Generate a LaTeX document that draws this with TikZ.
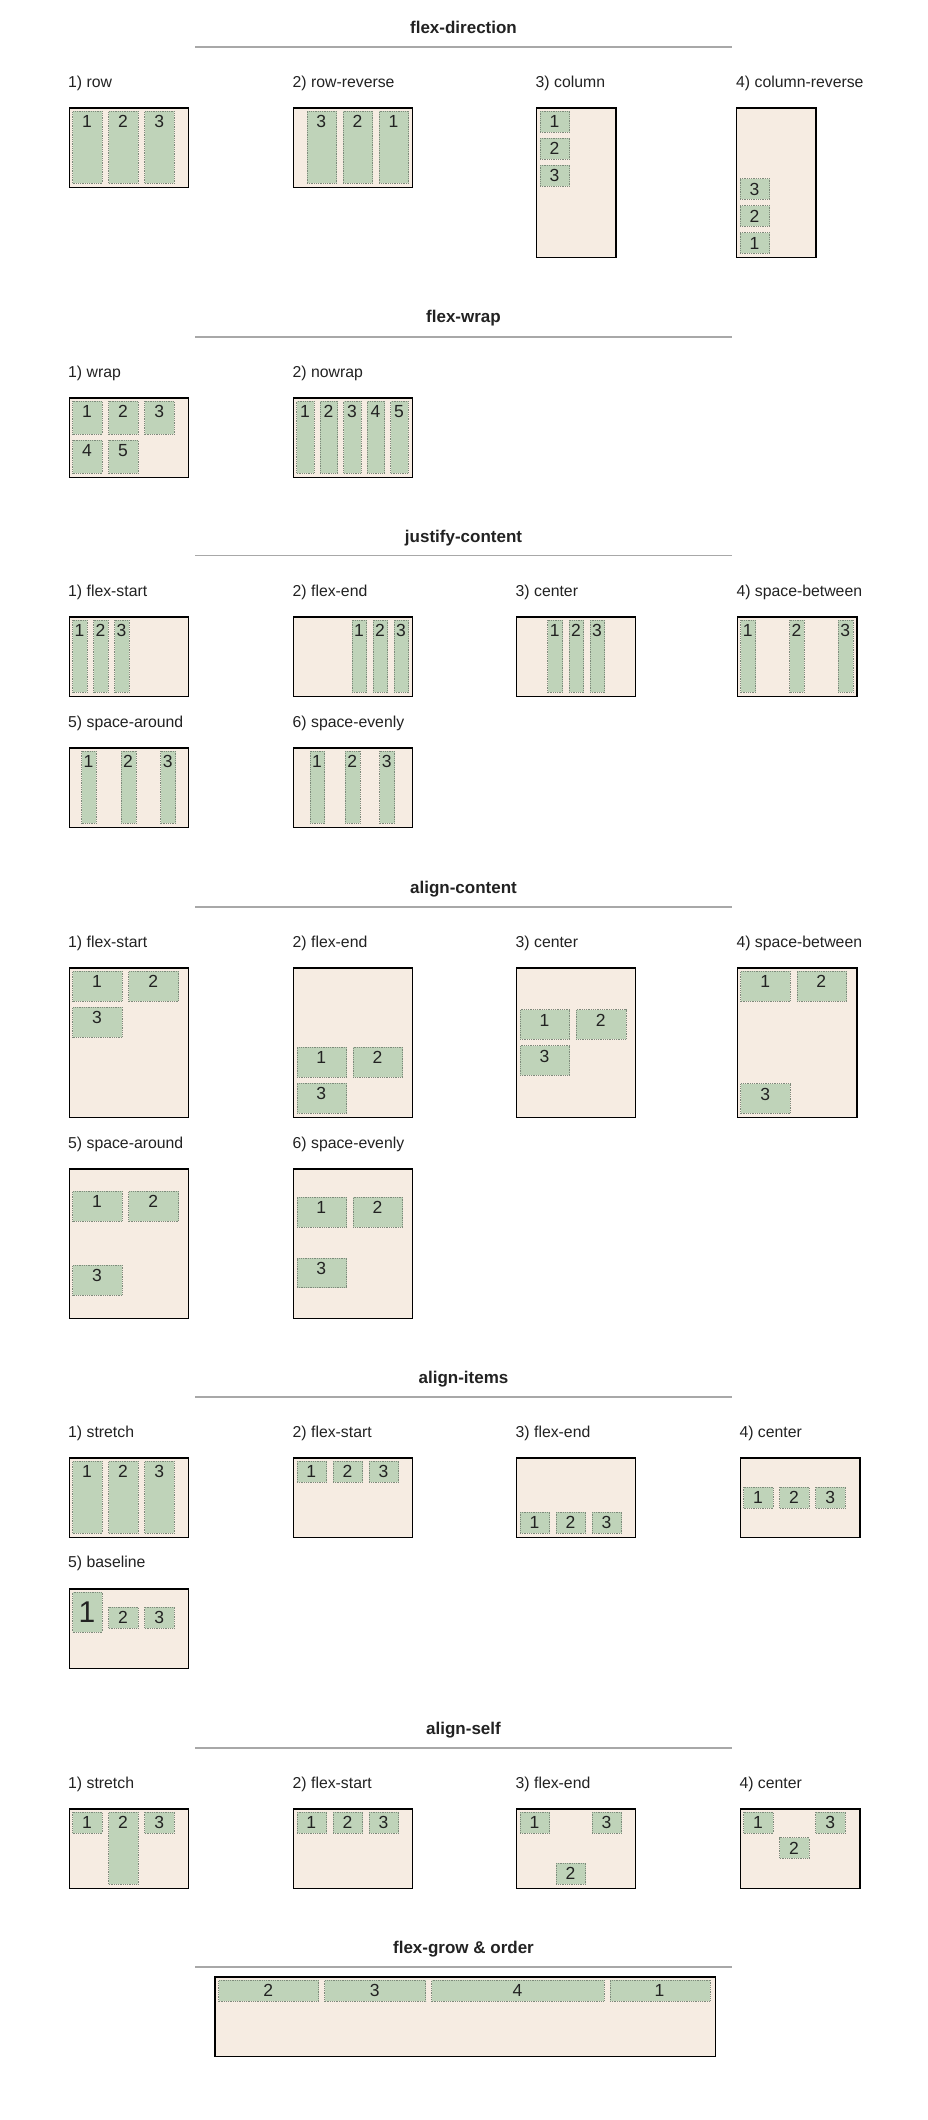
\documentclass[tikz,border=0pt]{standalone}
\usepackage{fontspec}
\setmainfont{Liberation Sans}
\definecolor{cream}{HTML}{F6ECE2}
\definecolor{sage}{HTML}{BFD3B9}
\definecolor{itemline}{HTML}{7E8A7B}
\definecolor{rulegray}{HTML}{A8A8A8}
\definecolor{ink}{HTML}{222222}
\tikzset{
  container/.style={draw=black, line width=1.4pt, fill=cream, inner sep=0pt, anchor=north west},
  flexitem/.style={draw=itemline, densely dotted, line width=0.8pt, fill=sage, inner sep=0pt, anchor=north west},
  num/.style={font=\fontsize{17.5}{20}\selectfont, text=ink, inner sep=0pt, anchor=base},
  bignum/.style={font=\fontsize{30}{34}\selectfont, text=ink, inner sep=0pt, anchor=base},
  lbl/.style={font=\fontsize{15.8}{18}\selectfont, text=ink, inner sep=0pt, anchor=base west},
  ttl/.style={font=\bfseries\fontsize{17}{20}\selectfont, text=ink, inner sep=0pt, anchor=base},
  rulestyle/.style={draw=rulegray, line width=1.6pt}
}
% container box: name, x, y, width, height
\newcommand\cbx[5]{\node[container, minimum width=#4pt, minimum height=#5pt] (#1) at (#2,#3) {};}
% flex item: name, x, y, width, height, number
\newcommand\itm[6]{%
  \node[flexitem, minimum width=#4pt, minimum height=#5pt] (#1) at (#2,#3) {};
  \node[num] (#1n) at ({#2+#4/2},{#3+16.8}) {#6};}
% section heading with rule: name, baseline y, rule y, text
\newcommand\sect[4]{%
  \node[ttl] (#1) at (463.5,#2) {#4};
  \draw[rulestyle] (195,#3) -- (732,#3);}
\begin{document}
\begin{tikzpicture}[x=1pt,y=-1pt]
\useasboundingbox (0,0) rectangle (927,2120);
\fill[white] (0,0) rectangle (927,2120);

% ---------------- flex-direction ----------------
\sect{tDir}{33.3}{46.7}{flex-direction}
\node[lbl] (lDir1) at (68,87.3) {1) row};
\node[lbl] (lDir2) at (292.5,87.3) {2) row-reverse};
\node[lbl] (lDir3) at (535.5,87.3) {3) column};
\node[lbl] (lDir4) at (736,87.3) {4) column-reverse};
\cbx{dRow}{68.6}{107.3}{119}{79.4}
\itm{dRowA}{72.2}{111}{29.6}{71.7}{1}
\itm{dRowB}{108.3}{111}{29.6}{71.7}{2}
\itm{dRowC}{144.4}{111}{29.6}{71.7}{3}
\cbx{dRev}{292.9}{107.3}{119}{79.4}
\itm{dRevA}{306.5}{111}{29.6}{71.7}{3}
\itm{dRevB}{342.6}{111}{29.6}{71.7}{2}
\itm{dRevC}{378.7}{111}{29.6}{71.7}{1}
\cbx{dCol}{536}{107.3}{79.4}{149.4}
\itm{dColA}{539.6}{111}{29.6}{20.7}{1}
\itm{dColB}{539.6}{138}{29.6}{20.7}{2}
\itm{dColC}{539.6}{165}{29.6}{20.7}{3}
\cbx{dColR}{736}{107.3}{79.4}{149.4}
\itm{dColRA}{739.6}{178.3}{29.6}{20.7}{3}
\itm{dColRB}{739.6}{205.3}{29.6}{20.7}{2}
\itm{dColRC}{739.6}{232.3}{29.6}{20.7}{1}

% ---------------- flex-wrap ----------------
\sect{tWrap}{322.3}{336.7}{flex-wrap}
\node[lbl] (lWrap1) at (68,377.3) {1) wrap};
\node[lbl] (lWrap2) at (292.5,377.3) {2) nowrap};
\cbx{wWrap}{68.6}{397.3}{119}{79.4}
\itm{wWrapA}{72.2}{401}{29.6}{32.7}{1}
\itm{wWrapB}{108.3}{401}{29.6}{32.7}{2}
\itm{wWrapC}{144.4}{401}{29.6}{32.7}{3}
\itm{wWrapD}{72.2}{440}{29.6}{32.7}{4}
\itm{wWrapE}{108.3}{440}{29.6}{32.7}{5}
\cbx{wNo}{292.9}{397.3}{119}{79.4}
\itm{wNoA}{296.4}{401}{17.2}{71.7}{1}
\itm{wNoB}{319.9}{401}{17.2}{71.7}{2}
\itm{wNoC}{343.4}{401}{17.2}{71.7}{3}
\itm{wNoD}{366.9}{401}{17.2}{71.7}{4}
\itm{wNoE}{390.4}{401}{17.2}{71.7}{5}

% ---------------- justify-content ----------------
\sect{tJust}{542.3}{555.3}{justify-content}
\node[lbl] (lJust1) at (68,596.3) {1) flex-start};
\node[lbl] (lJust2) at (292.5,596.3) {2) flex-end};
\node[lbl] (lJust3) at (515.5,596.3) {3) center};
\node[lbl] (lJust4) at (736.3,596.3) {4) space-between};
\node[lbl] (lJust5) at (68,727.3) {5) space-around};
\node[lbl] (lJust6) at (292.5,727.3) {6) space-evenly};
\cbx{jStart}{68.6}{616.3}{119}{79.4}
\itm{jStartA}{72.2}{620}{14.8}{71.7}{1}
\itm{jStartB}{93.2}{620}{14.8}{71.7}{2}
\itm{jStartC}{114.2}{620}{14.8}{71.7}{3}
\cbx{jEnd}{292.9}{616.3}{119}{79.4}
\itm{jEndA}{351.5}{620}{14.8}{71.7}{1}
\itm{jEndB}{372.5}{620}{14.8}{71.7}{2}
\itm{jEndC}{393.5}{620}{14.8}{71.7}{3}
\cbx{jCen}{516}{616.3}{119}{79.4}
\itm{jCenA}{547.3}{620}{14.8}{71.7}{1}
\itm{jCenB}{568.5}{620}{14.8}{71.7}{2}
\itm{jCenC}{589.6}{620}{14.8}{71.7}{3}
\cbx{jBetw}{736.7}{616.3}{119.5}{79.4}
\itm{jBetwA}{740.3}{620}{14.8}{71.7}{1}
\itm{jBetwB}{789.2}{620}{14.8}{71.7}{2}
\itm{jBetwC}{837.9}{620}{14.8}{71.7}{3}
\cbx{jArnd}{68.6}{747.3}{119}{79.4}
\itm{jArndA}{81.1}{751}{14.8}{71.7}{1}
\itm{jArndB}{120.7}{751}{14.8}{71.7}{2}
\itm{jArndC}{160.4}{751}{14.8}{71.7}{3}
\cbx{jEven}{292.9}{747.3}{119}{79.4}
\itm{jEvenA}{309.5}{751}{14.8}{71.7}{1}
\itm{jEvenB}{344.8}{751}{14.8}{71.7}{2}
\itm{jEvenC}{379.4}{751}{14.8}{71.7}{3}

% ---------------- align-content ----------------
\sect{tAC}{893.4}{906.7}{align-content}
\node[lbl] (lAC1) at (68,947.3) {1) flex-start};
\node[lbl] (lAC2) at (292.5,947.3) {2) flex-end};
\node[lbl] (lAC3) at (515.5,947.3) {3) center};
\node[lbl] (lAC4) at (736.3,947.3) {4) space-between};
\node[lbl] (lAC5) at (68,1148.3) {5) space-around};
\node[lbl] (lAC6) at (292.5,1148.3) {6) space-evenly};
\cbx{acStart}{68.6}{967.3}{119}{149.4}
\itm{acStartA}{72.2}{971}{49.7}{29.7}{1}
\itm{acStartB}{128.4}{971}{49.7}{29.7}{2}
\itm{acStartC}{72.2}{1007}{49.7}{29.7}{3}
\cbx{acEnd}{292.9}{967.3}{119}{149.4}
\itm{acEndA}{296.5}{1047}{49.7}{29.7}{1}
\itm{acEndB}{352.7}{1047}{49.7}{29.7}{2}
\itm{acEndC}{296.5}{1083}{49.7}{29.7}{3}
\cbx{acCen}{516}{967.3}{119}{149.4}
\itm{acCenA}{519.6}{1009.3}{49.7}{29.7}{1}
\itm{acCenB}{575.8}{1009.3}{49.7}{29.7}{2}
\itm{acCenC}{519.6}{1045.3}{49.7}{29.7}{3}
\cbx{acBetw}{736.7}{967.3}{119.5}{149.4}
\itm{acBetwA}{740.3}{971}{49.7}{29.7}{1}
\itm{acBetwB}{796.5}{971}{49.7}{29.7}{2}
\itm{acBetwC}{740.3}{1083.3}{49.7}{29.7}{3}
\cbx{acArnd}{68.6}{1168.3}{119}{149.4}
\itm{acArndA}{72.2}{1191}{49.7}{29.7}{1}
\itm{acArndB}{128.4}{1191}{49.7}{29.7}{2}
\itm{acArndC}{72.2}{1265}{49.7}{29.7}{3}
\cbx{acEven}{292.9}{1168.3}{119}{149.4}
\itm{acEvenA}{296.5}{1197}{49.7}{29.7}{1}
\itm{acEvenB}{352.7}{1197}{49.7}{29.7}{2}
\itm{acEvenC}{296.5}{1257.7}{49.7}{29.7}{3}

% ---------------- align-items ----------------
\sect{tAI}{1383.4}{1396.7}{align-items}
\node[lbl] (lAI1) at (68,1437.3) {1) stretch};
\node[lbl] (lAI2) at (292.5,1437.3) {2) flex-start};
\node[lbl] (lAI3) at (515.5,1437.3) {3) flex-end};
\node[lbl] (lAI4) at (739.3,1437.3) {4) center};
\node[lbl] (lAI5) at (68,1567.9) {5) baseline};
\cbx{aiStr}{68.6}{1457.3}{119}{79.4}
\itm{aiStrA}{72.2}{1461}{29.6}{71.7}{1}
\itm{aiStrB}{108.3}{1461}{29.6}{71.7}{2}
\itm{aiStrC}{144.4}{1461}{29.6}{71.7}{3}
\cbx{aiStart}{292.9}{1457.3}{119}{79.4}
\itm{aiStartA}{296.5}{1461}{29.6}{20.7}{1}
\itm{aiStartB}{332.6}{1461}{29.6}{20.7}{2}
\itm{aiStartC}{368.7}{1461}{29.6}{20.7}{3}
\cbx{aiEnd}{516}{1457.3}{119}{79.4}
\itm{aiEndA}{519.6}{1512}{29.6}{20.7}{1}
\itm{aiEndB}{555.7}{1512}{29.6}{20.7}{2}
\itm{aiEndC}{591.8}{1512}{29.6}{20.7}{3}
\cbx{aiCen}{739.6}{1457.3}{119.5}{79.4}
\itm{aiCenA}{743.2}{1487}{29.6}{20.7}{1}
\itm{aiCenB}{779.3}{1487}{29.6}{20.7}{2}
\itm{aiCenC}{815.4}{1487}{29.6}{20.7}{3}
\cbx{aiBase}{68.6}{1588.3}{119}{79.4}
\node[flexitem, minimum width=29.6pt, minimum height=39.7pt] (aiBaseA) at (72.2,1592) {};
\node[bignum] (aiBaseAn) at (87,1622.7) {1};
\itm{aiBaseB}{108.3}{1607}{29.6}{20.7}{2}
\itm{aiBaseC}{144.4}{1607}{29.6}{20.7}{3}

% ---------------- align-self ----------------
\sect{tAS}{1734.4}{1747.7}{align-self}
\node[lbl] (lAS1) at (68,1788.3) {1) stretch};
\node[lbl] (lAS2) at (292.5,1788.3) {2) flex-start};
\node[lbl] (lAS3) at (515.5,1788.3) {3) flex-end};
\node[lbl] (lAS4) at (739.3,1788.3) {4) center};
\cbx{asStr}{68.6}{1808.3}{119}{79.4}
\itm{asStrA}{72.2}{1812}{29.6}{20.7}{1}
\itm{asStrB}{108.3}{1812}{29.6}{71.7}{2}
\itm{asStrC}{144.4}{1812}{29.6}{20.7}{3}
\cbx{asStart}{292.9}{1808.3}{119}{79.4}
\itm{asStartA}{296.5}{1812}{29.6}{20.7}{1}
\itm{asStartB}{332.6}{1812}{29.6}{20.7}{2}
\itm{asStartC}{368.7}{1812}{29.6}{20.7}{3}
\cbx{asEnd}{516}{1808.3}{119}{79.4}
\itm{asEndA}{519.6}{1812}{29.6}{20.7}{1}
\itm{asEndB}{555.7}{1863}{29.6}{20.7}{2}
\itm{asEndC}{591.8}{1812}{29.6}{20.7}{3}
\cbx{asCen}{739.6}{1808.3}{119.5}{79.4}
\itm{asCenA}{743.2}{1812}{29.6}{20.7}{1}
\itm{asCenB}{779.3}{1837.3}{29.6}{20.7}{2}
\itm{asCenC}{815.4}{1812}{29.6}{20.7}{3}

% ---------------- flex-grow & order ----------------
\sect{tGrow}{1953.4}{1966.7}{flex-grow \& order}
\cbx{gBox}{214.2}{1976.3}{500.6}{79.4}
\itm{gA}{218.3}{1980}{100}{20.7}{2}
\itm{gB}{324.3}{1980}{101.1}{20.7}{3}
\itm{gC}{431.4}{1980}{172.2}{20.7}{4}
\itm{gD}{609.5}{1980}{100}{20.7}{1}
\end{tikzpicture}
\end{document}
